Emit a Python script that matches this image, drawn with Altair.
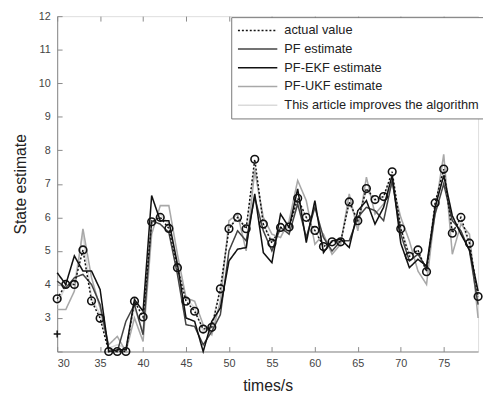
import altair as alt
import pandas as pd

times = list(range(30, 80))
actual = [3.57, 4.0, 4.0, 5.03, 3.51, 2.99, 2.0, 2.0, 2.0, 3.5,
          3.03, 5.87, 6.0, 5.67, 4.5, 3.5, 3.2, 2.67, 2.72, 3.87,
          5.66, 6.0, 5.66, 7.73, 5.8, 5.23, 5.7, 5.71, 6.57, 6.0,
          5.61, 5.13, 5.27, 5.27, 6.46, 5.9, 6.86, 6.53, 6.62, 7.36,
          5.66, 4.84, 5.03, 4.38, 6.43, 7.44, 5.53, 6.0, 5.23, 3.64]
pf = [4.1, 3.9, 4.2, 4.3, 4.0, 3.4, 2.1, 2.0, 2.9, 3.4,
      2.5, 5.9, 5.8, 5.55, 4.3, 2.8, 2.75, 2.2, 2.6, 3.1,
      5.0, 5.6, 5.3, 6.6, 5.6, 5.0, 5.7, 5.5, 6.4, 5.4,
      6.3, 5.4, 5.0, 5.3, 5.3, 6.0, 6.3, 6.2, 5.9, 7.1,
      5.5, 4.7, 4.9, 4.5, 6.1, 7.0, 5.9, 5.6, 5.0, 3.4]
pf_ekf = [4.35, 4.0, 4.85, 4.4, 4.4, 3.85, 2.0, 2.05, 2.05, 3.55,
          3.2, 6.65, 5.9, 5.9, 4.6, 3.0, 2.9, 2.0, 2.9, 3.3,
          4.7, 5.05, 5.1, 6.7, 4.95, 4.65, 6.1, 5.7, 6.85, 5.25,
          6.5, 4.95, 5.3, 5.35, 5.1, 6.2, 6.5, 5.8, 6.3, 7.25,
          5.23, 4.5, 4.75, 4.55, 6.3, 7.25, 6.05, 5.5, 5.03, 3.8]
pf_ukf = [3.25, 3.25, 3.8, 5.66, 4.2, 3.3, 2.2, 2.45, 2.0, 3.0,
          2.3, 5.5, 6.35, 6.35, 4.9, 3.6, 3.5, 2.8, 2.5, 3.5,
          5.9, 6.1, 5.0, 7.4, 6.0, 5.5, 5.4, 5.9, 7.1, 6.5,
          5.2, 5.5, 4.9, 5.2, 6.7, 5.6, 7.2, 6.1, 6.4, 7.0,
          6.0, 5.3, 4.4, 4.0, 6.2, 7.88, 4.9, 5.8, 5.5, 3.0]
improved = [3.4, 3.95, 4.05, 5.5, 3.6, 3.1, 2.1, 2.2, 2.1, 3.3,
            2.6, 5.8, 6.1, 5.8, 4.6, 3.6, 3.3, 2.6, 2.75, 3.9,
            5.7, 6.0, 5.7, 7.5, 5.8, 5.3, 5.6, 5.7, 6.5, 6.0,
            5.6, 5.2, 5.3, 5.3, 6.4, 5.9, 6.8, 6.5, 6.6, 7.3,
            5.7, 4.9, 5.0, 4.4, 6.4, 7.4, 5.6, 5.9, 5.2, 3.6]

plus_t = [30]
plus_v = [2.52]

series_names = ["actual value", "PF estimate", "PF-EKF estimate",
                "PF-UKF estimate", "This article improves the algorithm"]
series_values = [actual, pf, pf_ekf, pf_ukf, improved]
colors = ["#111111", "#444444", "#111111", "#a8a8a8", "#dadada"]
dashes = [[2, 2], [1, 0], [1, 0], [1, 0], [1, 0]]
widths = [1.5, 1.6, 2.0, 1.6, 1.6]
draw_order = [4, 3, 1, 2, 0]

rows = []
for i in draw_order:
    for t, v in zip(times, series_values[i]):
        rows.append({"t": t, "v": v, "series": series_names[i]})
df = pd.DataFrame(rows)
df_actual = pd.DataFrame({"t": times, "v": actual})
df_plus = pd.DataFrame({"t": plus_t, "v": plus_v})

W, H = 428, 341
FONT = "Liberation Sans"
AX = "#8a8a8a"
xs = alt.Scale(domain=[30, 79], nice=False, zero=False)
ys = alt.Scale(domain=[2, 12], nice=False, zero=False)
xticks = list(range(30, 80, 5))

leg = alt.Legend(title=None, orient="none", legendX=177, legendY=1,
                 fillColor="white", strokeColor="#777777", padding=6,
                 labelFontSize=13, labelColor="#222222", labelFont=FONT,
                 symbolType="M-1,0H5", symbolSize=178, labelOffset=33,
                 labelLimit=400, rowPadding=4, cornerRadius=0)

lines = alt.Chart(df).mark_line().encode(
    x=alt.X("t:Q", scale=xs, axis=alt.Axis(
        values=xticks, title="times/s", ticks=False, grid=False,
        domainColor=AX, labelColor="#444444", labelFontSize=11,
        labelFont=FONT, titleFont=FONT, titleFontSize=16,
        titleFontWeight="normal", titleColor="#222222",
        labelPadding=6, titlePadding=10)),
    y=alt.Y("v:Q", scale=ys, axis=alt.Axis(
        values=list(range(3, 13)), title="State estimate", ticks=False,
        grid=False, domainColor=AX, labelColor="#444444", labelFontSize=11,
        labelFont=FONT, titleFont=FONT, titleFontSize=16,
        titleFontWeight="normal", titleColor="#222222",
        labelPadding=7, titlePadding=10)),
    color=alt.Color("series:N", scale=alt.Scale(domain=series_names, range=colors), legend=leg),
    strokeDash=alt.StrokeDash("series:N", scale=alt.Scale(domain=series_names, range=dashes), legend=leg),
    strokeWidth=alt.StrokeWidth("series:N", scale=alt.Scale(domain=series_names, range=widths), legend=leg),
)

pts = alt.Chart(df_actual).mark_point(
    shape="circle", filled=False, size=60, strokeWidth=1.6,
    color="#111111", opacity=1
).encode(
    x=alt.X("t:Q", scale=xs, axis=alt.Axis(
        orient="top", offset=-H, labels=False, tickSize=5, domain=False,
        grid=False, title=None, values=xticks, tickColor=AX)),
    y=alt.Y("v:Q", scale=ys, axis=alt.Axis(
        orient="right", offset=-W, labels=False, tickSize=5, domain=False,
        grid=False, title=None, values=list(range(2, 13)), tickColor=AX)),
)

plus = alt.Chart(df_plus).mark_point(
    shape="M-1,0H1M0,-1V1", filled=False, size=50, strokeWidth=1.5,
    color="#111111", opacity=1
).encode(
    x=alt.X("t:Q", scale=xs, axis=alt.Axis(
        orient="bottom", offset=-H, labels=False, tickSize=5, domain=False,
        grid=False, title=None, values=xticks, tickColor=AX)),
    y=alt.Y("v:Q", scale=ys, axis=None),
)

chart = alt.layer(lines, pts, plus).resolve_axis(
    x="independent", y="independent"
).properties(
    width=W, height=H,
    padding={"left": 50, "top": 5, "right": 5, "bottom": 46},
    autosize=alt.AutoSizeParams(type="none"),
).configure_view(stroke=AX, strokeWidth=1).configure(font=FONT)

chart.save("out.html", embed_options={"renderer": "svg", "actions": False})
